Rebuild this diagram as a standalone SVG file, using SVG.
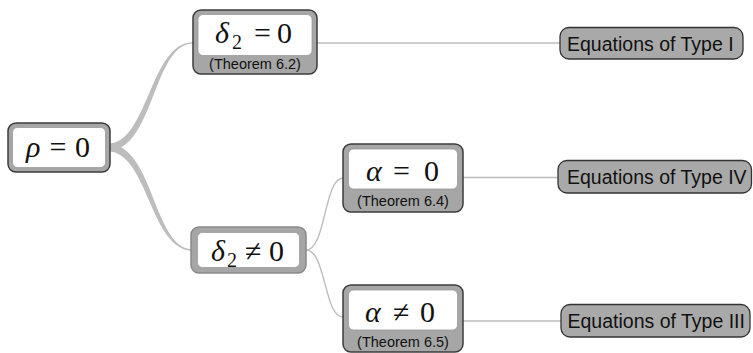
<svg xmlns="http://www.w3.org/2000/svg" width="753" height="353" viewBox="0 0 753 353">
  <style>
    .outer { fill: #a6a6a6; stroke: #3c3c3c; stroke-width: 1.5; }
    .outer.soft { stroke: #8a8a8a; }
    .inner { fill: #ffffff; stroke: #9a9a9a; stroke-width: 0.8; }
    .math { font-family: "Liberation Serif", serif; font-size: 30px; fill: #111; }
    .it { font-style: italic; }
    .sub { font-size: 20px; }
    .thm { font-family: "Liberation Sans", Arial, sans-serif; font-size: 14.5px; fill: #111; text-anchor: middle; }
    .eq { fill: #a9a9a9; stroke: #333; stroke-width: 1.3; }
    .eqt { font-family: "Liberation Sans", Arial, sans-serif; font-size: 19.5px; fill: #111; }
    .line { fill: none; stroke: #bdbdbd; stroke-width: 1.4; }
    .taper { fill: #bdbdbd; stroke: none; }
  </style>
  <rect width="753" height="353" fill="#ffffff"/>
  <g id="connectors">
    <path class="taper" d="M108,143.5 C148,143.5 150,42.2 193,42.2 L193,43.6 C153,43.6 154,151 108,151 Z"/>
    <path class="taper" d="M108,144 C154,144 153,249.4 193,249.4 L193,250.8 C150,250.8 148,151.5 108,151.5 Z"/>
    <path class="line" d="M317,43 L560,43"/>
    <path class="line" d="M306,250 C326,250 324,178 343,178"/>
    <path class="line" d="M306,250 C326,250 324,317 343,317"/>
    <path class="line" d="M463,177.5 L558,177.5"/>
    <path class="line" d="M463,321 L561,321"/>
  </g>
  <g id="node-rho">
    <rect class="outer" x="8" y="123" width="102" height="49" rx="8"/>
    <rect class="inner" x="12.5" y="127.5" width="93" height="40" rx="5"/>
    <text class="math" y="157" font-size="28"><tspan class="it" x="26">ρ</tspan><tspan x="49.5">=</tspan><tspan x="75">0</tspan></text>
  </g>
  <g id="node-delta-eq">
    <rect class="outer" x="193" y="10" width="124" height="64" rx="8"/>
    <rect class="inner" x="198" y="14.5" width="114" height="41" rx="5"/>
    <text class="math" y="43"><tspan class="it" x="215">δ</tspan><tspan class="sub" x="232" dy="6">2</tspan><tspan x="254" dy="-6">=</tspan><tspan x="277">0</tspan></text>
    <text class="thm" x="255" y="69">(Theorem 6.2)</text>
  </g>
  <g id="node-delta-ne">
    <rect class="outer soft" x="191" y="227" width="115" height="46" rx="8"/>
    <rect class="inner" x="197.5" y="232.5" width="102" height="35" rx="5"/>
    <text class="math" y="261"><tspan class="it" x="211">δ</tspan><tspan class="sub" x="227" dy="6">2</tspan><tspan x="245" dy="-6">≠</tspan><tspan x="269">0</tspan></text>
  </g>
  <g id="node-alpha-eq">
    <rect class="outer" x="343" y="144" width="120" height="68" rx="8"/>
    <rect class="inner" x="348.5" y="149" width="109" height="40" rx="5"/>
    <text class="math" y="181"><tspan class="it" x="366">α</tspan><tspan x="393">=</tspan><tspan x="424">0</tspan></text>
    <text class="thm" x="403" y="206">(Theorem 6.4)</text>
  </g>
  <g id="node-alpha-ne">
    <rect class="outer" x="343" y="285" width="120" height="67" rx="8"/>
    <rect class="inner" x="348.5" y="290" width="109" height="40" rx="5"/>
    <text class="math" y="322"><tspan class="it" x="365">α</tspan><tspan x="393">≠</tspan><tspan x="420">0</tspan></text>
    <text class="thm" x="403" y="347">(Theorem 6.5)</text>
  </g>
  <g id="node-type-i">
    <rect class="eq" x="560" y="27.5" width="183" height="31.5" rx="9"/>
    <text class="eqt" x="567" y="50.5">Equations of Type I</text>
  </g>
  <g id="node-type-iv">
    <rect class="eq" x="558" y="160.5" width="193.5" height="32.5" rx="9"/>
    <text class="eqt" x="567" y="184">Equations of Type IV</text>
  </g>
  <g id="node-type-iii">
    <rect class="eq" x="561" y="304.5" width="189" height="32.5" rx="9"/>
    <text class="eqt" x="567.5" y="328">Equations of Type III</text>
  </g>
</svg>
